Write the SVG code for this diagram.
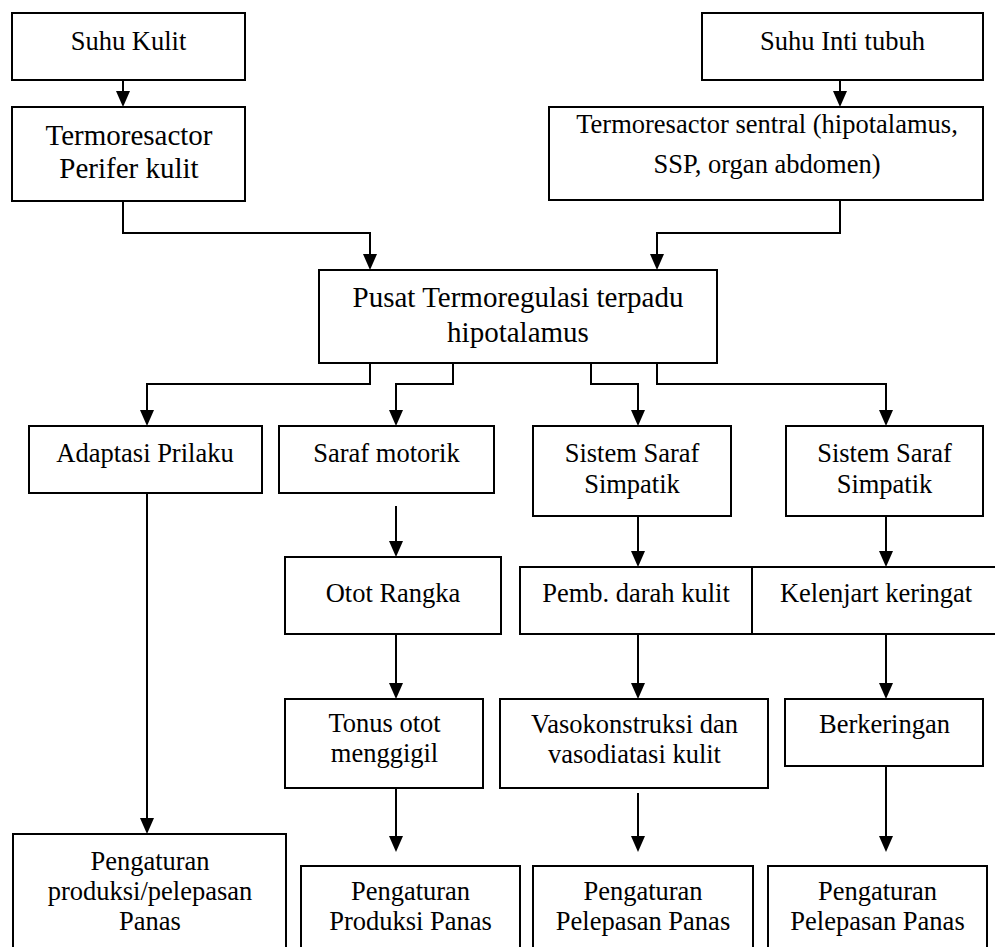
<svg xmlns="http://www.w3.org/2000/svg" width="995" height="947" viewBox="0 0 995 947">
<style>
.box{fill:#fff;stroke:#000;stroke-width:2}
.t{font-family:"Liberation Serif","Times New Roman",serif;font-size:26.5px;fill:#000;text-anchor:middle}
.tl{font-size:29px}
.c{fill:none;stroke:#000;stroke-width:2;marker-end:url(#arr)}
</style>
<defs>
<marker id="arr" markerUnits="userSpaceOnUse" markerWidth="16" markerHeight="14" refX="8" refY="7" orient="auto">
<path d="M0,0 L16,7 L0,14 z" fill="#000"/>
</marker>
</defs>
<rect width="995" height="947" fill="#fff"/>
<g id="connectors">
<path class="c" d="M123,80 V99"/>
<path class="c" d="M840,80 V99"/>
<path class="c" d="M123,201 V233 H370 V262"/>
<path class="c" d="M840,200 V233 H657 V262"/>
<path class="c" d="M370,363 V384 H147 V418"/>
<path class="c" d="M453,363 V384 H396 V418"/>
<path class="c" d="M591,363 V384 H638 V418"/>
<path class="c" d="M657,363 V384 H886 V418"/>
<path class="c" d="M147,493 V826"/>
<path class="c" d="M396,506 V549"/>
<path class="c" d="M638,516 V559"/>
<path class="c" d="M886,516 V559"/>
<path class="c" d="M396,634 V691"/>
<path class="c" d="M638,634 V691"/>
<path class="c" d="M886,634 V691"/>
<path class="c" d="M396,788 V844"/>
<path class="c" d="M638,793 V844"/>
<path class="c" d="M886,766 V844"/>
</g>
<g id="suhu-kulit"><rect class="box" x="12" y="13" width="233" height="67"/><text class="t" x="128.5" y="50">Suhu Kulit</text></g>
<g id="suhu-inti"><rect class="box" x="702" y="13" width="281" height="67"/><text class="t" x="842.5" y="50">Suhu Inti tubuh</text></g>
<g id="termo-perifer"><rect class="box" x="12" y="107" width="233" height="94"/><text class="t tl" x="129" y="145">Termoresactor</text><text class="t tl" x="129" y="178">Perifer kulit</text></g>
<g id="termo-sentral"><rect class="box" x="549" y="107" width="434" height="93"/><text class="t" x="767" y="133">Termoresactor sentral (hipotalamus,</text><text class="t" x="767" y="173">SSP, organ abdomen)</text></g>
<g id="pusat"><rect class="box" x="319" y="270" width="398" height="93"/><text class="t tl" x="518" y="307">Pusat Termoregulasi terpadu</text><text class="t tl" x="518" y="342">hipotalamus</text></g>
<g id="adaptasi"><rect class="box" x="29" y="426" width="233" height="67"/><text class="t" x="145" y="462">Adaptasi Prilaku</text></g>
<g id="saraf-motorik"><rect class="box" x="279" y="426" width="215" height="67"/><text class="t" x="386.5" y="462">Saraf motorik</text></g>
<g id="simpatik-1"><rect class="box" x="533" y="426" width="198" height="90"/><text class="t" x="632" y="462">Sistem Saraf</text><text class="t" x="632" y="493">Simpatik</text></g>
<g id="simpatik-2"><rect class="box" x="786" y="426" width="197" height="90"/><text class="t" x="884.5" y="462">Sistem Saraf</text><text class="t" x="884.5" y="493">Simpatik</text></g>
<g id="otot-rangka"><rect class="box" x="285" y="557" width="216" height="77"/><text class="t" x="393" y="602">Otot Rangka</text></g>
<g id="pemb-darah"><rect class="box" x="520" y="567" width="232" height="67"/><text class="t" x="636" y="602">Pemb. darah kulit</text></g>
<g id="kelenjar"><rect class="box" x="752" y="567" width="250" height="67"/><text class="t" x="876" y="602">Kelenjart keringat</text></g>
<g id="tonus"><rect class="box" x="285" y="699" width="198" height="89"/><text class="t" x="384.5" y="732">Tonus otot</text><text class="t" x="384.5" y="762">menggigil</text></g>
<g id="vaso"><rect class="box" x="500" y="699" width="268" height="89"/><text class="t" x="634.5" y="733">Vasokonstruksi dan</text><text class="t" x="634.5" y="763">vasodiatasi kulit</text></g>
<g id="berkeringan"><rect class="box" x="785" y="699" width="198" height="67"/><text class="t" x="884.5" y="733">Berkeringan</text></g>
<g id="pengaturan-1"><rect class="box" x="13" y="834" width="273" height="130"/><text class="t" x="150" y="870">Pengaturan</text><text class="t" x="150" y="900">produksi/pelepasan</text><text class="t" x="150" y="930">Panas</text></g>
<g id="pengaturan-2"><rect class="box" x="301" y="866" width="219" height="100"/><text class="t" x="410.5" y="900">Pengaturan</text><text class="t" x="410.5" y="930">Produksi Panas</text></g>
<g id="pengaturan-3"><rect class="box" x="533" y="866" width="220" height="100"/><text class="t" x="643" y="900">Pengaturan</text><text class="t" x="643" y="930">Pelepasan Panas</text></g>
<g id="pengaturan-4"><rect class="box" x="768" y="866" width="219" height="100"/><text class="t" x="877.5" y="900">Pengaturan</text><text class="t" x="877.5" y="930">Pelepasan Panas</text></g>
</svg>
